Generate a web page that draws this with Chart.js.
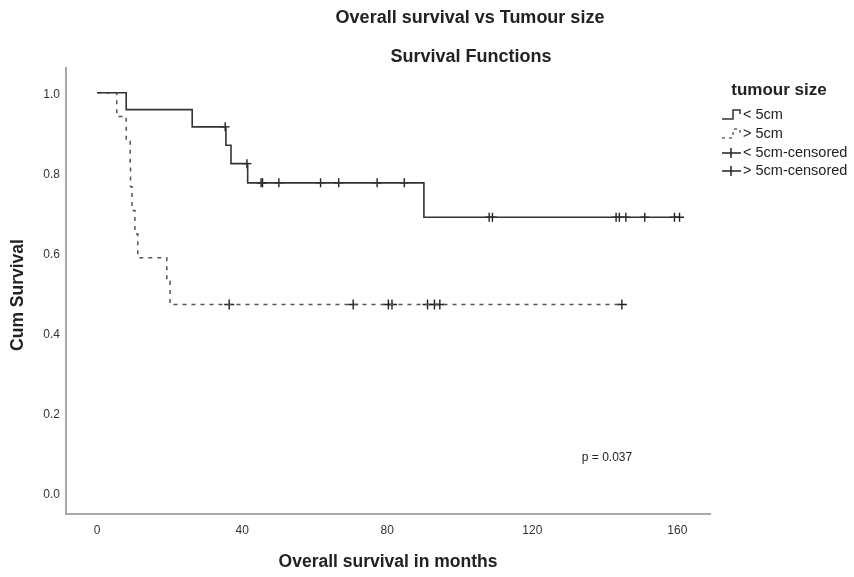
<!DOCTYPE html>
<html>
<head>
<meta charset="utf-8">
<script src="https://cdn.jsdelivr.net/npm/chart.js@4.4.1/dist/chart.umd.min.js"></script>
<style>
  html, body { margin: 0; padding: 0; background: #fff; }
  #wrap { width: 854px; height: 577px; }
</style>
</head>
<body>
<div id="wrap"><canvas id="km"></canvas></div>
<script>
// survival steps, < 5cm group
const timesLt5 = [0, 8.0, 26.2, 35.5, 36.9, 41.5, 90.1, 160.4];
const survLt5 = [1, 0.958, 0.915, 0.869, 0.823, 0.775, 0.689, 0.689];
const censorLt5 = [35.3, 41.3, 45.2, 45.6, 50.1, 61.6, 66.6, 77.2, 84.7, 108.1, 109.0,
  143.1, 144.0, 145.8, 151.0, 159.2, 160.6];

// survival steps, > 5cm group
const timesGt5 = [0, 5.4, 8.0, 9.1, 9.2, 9.6, 10.4, 11.2, 19.2, 20.1, 144.7];
const survGt5 = [1, 0.941, 0.882, 0.824, 0.765, 0.706, 0.647, 0.588, 0.529, 0.471, 0.471];
const censorGt5 = [36.4, 70.6, 80.3, 81.3, 91.1, 93.0, 94.5, 144.7];

const groupNames = ["< 5cm", "> 5cm"];
const xTicks = [0, 40, 80, 120, 160];
const yTicks = [0, 0.2, 0.4, 0.6, 0.8, 1.0];
const pText = "p = 0.037";

const FONT = "'Liberation Sans', Arial, sans-serif";

function curve(times, surv) {
  return times.map((t, i) => ({ x: t, y: surv[i] }));
}
// value of the step curve at time t
function survAt(times, surv, t) {
  let s = surv[0];
  for (let i = 0; i < times.length; i++) {
    if (times[i] <= t) s = surv[i];
  }
  return s;
}
function marks(cens, times, surv) {
  return cens.map(t => ({ x: t, y: survAt(times, surv, t) }));
}

const textPlugin = {
  id: "texts",
  afterDraw(chart) {
    const ctx = chart.ctx;
    const area = chart.chartArea;
    ctx.save();
    ctx.fillStyle = "#222";
    ctx.textAlign = "center";
    ctx.textBaseline = "middle";

    ctx.font = "bold 18px " + FONT;
    ctx.fillText("Overall survival vs Tumour size", 470, 18);
    ctx.fillText("Survival Functions", 471, 57);

    ctx.font = "bold 17.5px " + FONT;
    ctx.fillText("Overall survival in months", (area.left + area.right) / 2, 562);
    ctx.save();
    ctx.translate(18, (area.top + area.bottom) / 2 + 4);
    ctx.rotate(-Math.PI / 2);
    ctx.fillText("Cum Survival", 0, 0);
    ctx.restore();

    // p value
    ctx.font = "12px " + FONT;
    ctx.fillText(pText, 607, 458);

    // legend
    ctx.font = "bold 17px " + FONT;
    ctx.fillText("tumour size", 779, 90);
    ctx.textAlign = "left";
    ctx.font = "14.5px " + FONT;
    const rows = [groupNames[0], groupNames[1], groupNames[0] + "-censored", groupNames[1] + "-censored"];
    const ys = [115, 134, 153, 171];
    rows.forEach((r, i) => ctx.fillText(r, 743, ys[i]));

    ctx.lineWidth = 1.5;
    // solid step symbol
    ctx.strokeStyle = "#333";
    ctx.beginPath();
    ctx.moveTo(722, ys[0] + 4);
    ctx.lineTo(733, ys[0] + 4);
    ctx.lineTo(733, ys[0] - 5);
    ctx.lineTo(740, ys[0] - 5);
    ctx.lineTo(740, ys[0] - 1);
    ctx.stroke();
    // dashed step symbol
    ctx.strokeStyle = "#666";
    ctx.setLineDash([3, 4]);
    ctx.beginPath();
    ctx.moveTo(722, ys[1] + 4);
    ctx.lineTo(733, ys[1] + 4);
    ctx.lineTo(733, ys[1] - 5);
    ctx.lineTo(740, ys[1] - 5);
    ctx.lineTo(740, ys[1] - 1);
    ctx.stroke();
    ctx.setLineDash([]);
    // censor symbols
    ctx.strokeStyle = "#222";
    [ys[2], ys[3]].forEach(y => {
      ctx.beginPath();
      ctx.moveTo(722, y);
      ctx.lineTo(741, y);
      ctx.moveTo(731, y - 5);
      ctx.lineTo(731, y + 5);
      ctx.stroke();
    });
    ctx.restore();
  }
};

new Chart(document.getElementById("km"), {
  type: "scatter",
  data: {
    datasets: [
      {
        label: groupNames[0],
        data: curve(timesLt5, survLt5),
        showLine: true,
        stepped: true,
        borderColor: "#333",
        borderWidth: 1.6,
        pointRadius: 0,
      },
      {
        label: groupNames[1],
        data: curve(timesGt5, survGt5),
        showLine: true,
        stepped: true,
        borderColor: "#555",
        borderWidth: 1.5,
        borderDash: [4, 5],
        pointRadius: 0,
      },
      {
        label: groupNames[0] + "-censored",
        data: marks(censorLt5, timesLt5, survLt5),
        pointStyle: "cross",
        pointRadius: 4.5,
        borderColor: "#222",
        borderWidth: 1.4,
      },
      {
        label: groupNames[1] + "-censored",
        data: marks(censorGt5, timesGt5, survGt5),
        pointStyle: "cross",
        pointRadius: 5,
        borderColor: "#222",
        borderWidth: 1.4,
      },
    ],
  },
  options: {
    responsive: true,
    maintainAspectRatio: false,
    animation: false,
    layout: { padding: { top: 68, right: 144, left: 0, bottom: 0 } },
    plugins: {
      legend: { display: false },
      title: { display: false },
      tooltip: { enabled: false },
    },
    scales: {
      x: {
        type: "linear",
        min: -8.6,
        max: 169,
        afterBuildTicks: (s) => { s.ticks = xTicks.map(v => ({ value: v })); },
        afterFit: (s) => { s.height = 63; },
        grid: { display: false, drawTicks: false },
        border: { display: true, color: "#a8a8a8", width: 2 },
        ticks: { color: "#333", font: { family: FONT, size: 12 }, padding: 9 },
      },
      y: {
        min: -0.0525,
        max: 1.062,
        afterBuildTicks: (s) => { s.ticks = yTicks.map(v => ({ value: v })); },
        afterFit: (s) => { s.width = 66; },
        grid: { display: false, drawTicks: false },
        border: { display: true, color: "#a8a8a8", width: 2 },
        ticks: {
          color: "#333",
          font: { family: FONT, size: 12 },
          padding: 6,
          labelOffset: 2,
          callback: (v) => v.toFixed(1),
        },
      },
    },
  },
  plugins: [textPlugin],
});
</script>
</body>
</html>
